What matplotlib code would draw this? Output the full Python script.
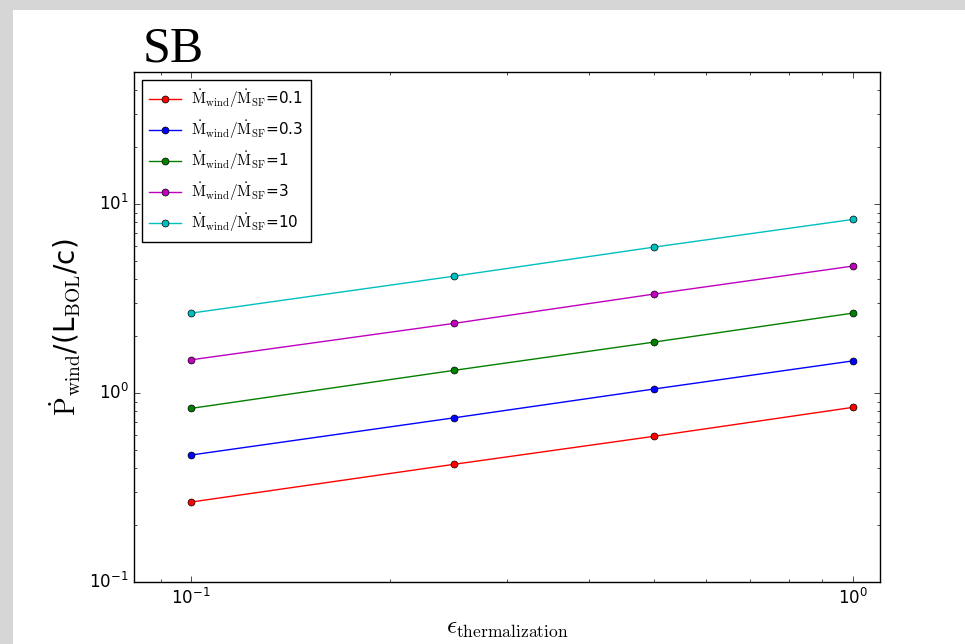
import matplotlib
matplotlib.use('Agg')
import matplotlib.pyplot as plt
from matplotlib.patches import Rectangle

plt.style.use('classic')
plt.rcParams['mathtext.fontset'] = 'cm'
plt.rcParams['font.family'] = ['DejaVu Sans']

# thermalization efficiency
eps = [0.1, 0.25, 0.5, 1.0]

# P_wind / (L_BOL/c) for each mass-loading factor
p_01 = [0.265, 0.42, 0.59, 0.84]
p_03 = [0.47, 0.74, 1.05, 1.48]
p_1 = [0.83, 1.32, 1.86, 2.65]
p_3 = [1.50, 2.34, 3.34, 4.70]
p_10 = [2.65, 4.16, 5.92, 8.3]

ratios = ['0.1', '0.3', '1', '3', '10']
colors = ['r', 'b', 'g', 'm', 'c']

fig = plt.figure(figsize=(9.65, 6.44), dpi=100, facecolor='white')
# screenshot frame
fig.patches.append(Rectangle((0, 1 - 10 / 644), 1, 10 / 644, transform=fig.transFigure,
                             facecolor='#d6d6d6', edgecolor='none', zorder=-1))
fig.patches.append(Rectangle((0, 0), 13 / 965, 1, transform=fig.transFigure,
                             facecolor='#d6d6d6', edgecolor='none', zorder=-1))

ax = fig.add_axes([0.139, 0.0963, 0.773, 0.7917])

for vals, r, c in zip([p_01, p_03, p_1, p_3, p_10], ratios, colors):
    ax.plot(eps, vals, '-o', color=c, lw=1, ms=5, mec='k', mew=0.5,
            label=r'$\dot{\rm M}_{\rm wind}/\dot{\rm M}_{\rm SF}$=' + r)

ax.set_xscale('log')
ax.set_yscale('log')
ax.set_xlim(0.082, 1.1)
ax.set_ylim(0.1, 50)
ax.tick_params(labelsize=12)

ax.set_xlabel(r'$\epsilon_{\rm thermalization}$', fontsize=18, labelpad=6)
ax.set_ylabel(r'$\dot{\rm P}_{\rm wind}$/(L$_{\rm BOL}$/c)', fontsize=20)
ax.text(0.012, 0.999, 'SB', transform=ax.transAxes, fontsize=36,
        family='Liberation Serif', ha='left', va='bottom')

ax.legend(loc='upper left', numpoints=1, fontsize=11, fancybox=False,
          handlelength=2.1, handletextpad=0.6, borderpad=0.5, labelspacing=0.55)

fig.savefig('out.png', dpi=100, facecolor=fig.get_facecolor())
